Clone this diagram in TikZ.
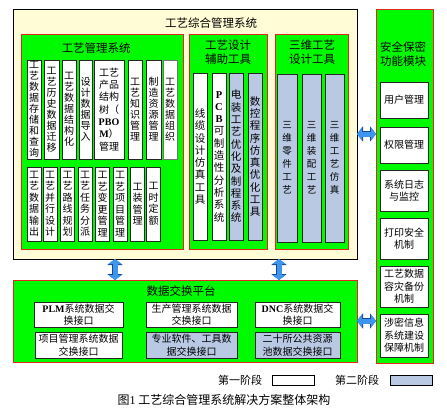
\documentclass[tikz,border=0pt]{standalone}
\usepackage{fontspec}
\setmainfont{Noto Sans CJK SC}
\newfontfamily\lat{Liberation Serif}
\usetikzlibrary{arrows.meta}
\definecolor{cream}{RGB}{255,252,214}
\definecolor{gfill}{RGB}{0,250,0}
\definecolor{gborder}{RGB}{225,40,30}
\definecolor{bgray}{RGB}{185,201,227}
\definecolor{ablue}{RGB}{60,150,240}
\definecolor{adark}{RGB}{25,70,140}
\makeatletter
\newcommand\vstk[1]{\def\vacc{}\def\vsep{}%
  \@tfor\ch:=#1\do{\edef\vacc{\unexpanded\expandafter{\vacc}\unexpanded\expandafter{\vsep}\unexpanded\expandafter{\ch}}\def\vsep{\\}}%
  \vacc}
\makeatother
\tikzset{
  every node/.style={inner sep=0pt, outer sep=0pt},
  creambox/.style={draw=black, fill=cream, line width=0.7pt},
  grp/.style={draw=gborder, fill=gfill, line width=0.8pt},
  wb/.style={draw=black!85, fill=white, line width=0.8pt, align=center},
  gb/.style={draw=black!85, fill=bgray, line width=0.8pt, align=center},
  ttl/.style={font=\fontsize{11.5}{14}\selectfont, align=center},
  tv/.style={font=\fontsize{10}{11}\selectfont},
  tvb/.style={font=\fontsize{10}{11.5}\selectfont},
  tva/.style={font=\fontsize{10.5}{12.3}\selectfont},
  tvd/.style={font=\fontsize{9.5}{13}\selectfont},
  th/.style={font=\fontsize{10}{12.5}\selectfont},
  tx/.style={font=\fontsize{10}{12.5}\selectfont},
  dbl/.style={line width=5pt, draw=ablue,
    {Triangle[length=5pt,width=13pt]}-{Triangle[length=5pt,width=13pt]},
    preaction={draw=adark, line width=6.6pt,
      {Triangle[length=6pt,width=15pt]}-{Triangle[length=6pt,width=15pt]}}}
}
\begin{document}
\begin{tikzpicture}[x=1pt,y=-1pt]
\useasboundingbox (0,0) rectangle (447,407);
% outer cream system box
\node[creambox, minimum width=344pt, minimum height=250pt] (cream) at (185,134) {};
\node[ttl] (creamt) at (211,23) {工艺综合管理系统};
% group 1
\node[grp, minimum width=162pt, minimum height=215pt] (g1) at (102,141.5) {};
\node[ttl] (g1t) at (96,48) {工艺管理系统};
\node[wb, tv, minimum width=14pt, minimum height=99pt] (t1) at (34,109.5) {\vstk{工艺数据存储和查询}};
\node[wb, tv, minimum width=15pt, minimum height=99pt] (t2) at (51.5,109.5) {\vstk{工艺历史数据迁移}};
\node[wb, tv, minimum width=14pt, minimum height=99pt] (t3) at (69,109.5) {\vstk{工艺数据结构化}};
\node[wb, tv, minimum width=13pt, minimum height=99pt] (t4) at (85.5,109.5) {\vstk{设计数据导入}};
\node[wb, font=\fontsize{10}{12.3}\selectfont, minimum width=30pt, minimum height=99pt] (t5) at (109,109.5) {工艺\\产品\\结构\\树（\\{\lat\bfseries PBO}\\{\lat\bfseries M}）\\管理};
\node[wb, tv, minimum width=14pt, minimum height=99pt] (t6) at (135,109.5) {\vstk{工艺知识管理}};
\node[wb, tv, minimum width=15pt, minimum height=99pt] (t7) at (153.5,109.5) {\vstk{制造资源管理}};
\node[wb, tv, draw=black!55, minimum width=14pt, minimum height=99pt] (t8) at (170,109.5) {\vstk{工艺数据组织}};
\node[wb, tvb, minimum width=14pt, minimum height=74pt] (b1) at (34,204) {\vstk{工艺数据输出}};
\node[wb, tvb, minimum width=14pt, minimum height=74pt] (b2) at (50,204) {\vstk{工艺并行设计}};
\node[wb, tvb, minimum width=14pt, minimum height=74pt] (b3) at (67.5,204) {\vstk{工艺路线规划}};
\node[wb, tvb, minimum width=14pt, minimum height=74pt] (b4) at (85,204) {\vstk{工艺任务分派}};
\node[wb, tvb, minimum width=14pt, minimum height=74pt] (b5) at (102.5,204) {\vstk{工艺变更管理}};
\node[wb, tvb, minimum width=14pt, minimum height=74pt] (b6) at (120,204) {\vstk{工艺项目管理}};
\node[wb, tvb, minimum width=14pt, minimum height=74pt] (b7) at (137.5,204) {\vstk{工装管理}};
\node[wb, tvb, minimum width=14pt, minimum height=74pt] (b8) at (153.5,204) {\vstk{工时定额}};
% group 2
\node[grp, minimum width=78pt, minimum height=215pt] (g2) at (228,141.5) {};
\node[ttl] (g2t) at (228,52) {工艺设计\\辅助工具};
\node[wb, tva, minimum width=14pt, minimum height=167pt] (a1) at (200,156.5) {\vstk{线缆设计仿真工具}};
\node[wb, tva, minimum width=14pt, minimum height=167pt] (a2) at (219,156.5) {{\lat\bfseries P}\\{\lat\bfseries C}\\{\lat\bfseries B}\\可\\制\\造\\性\\分\\析\\系\\统};
\node[gb, tva, minimum width=14pt, minimum height=167pt] (a3) at (236,156.5) {\vstk{电装工艺优化及制程系统}};
\node[gb, tva, minimum width=14pt, minimum height=167pt] (a4) at (255,156.5) {\vstk{数控程序仿真优化工具}};
% group 3
\node[grp, minimum width=73pt, minimum height=215pt] (g3) at (311.5,141.5) {};
\node[ttl] (g3t) at (312,52) {三维工艺\\设计工具};
\node[gb, tvd, minimum width=20pt, minimum height=168pt] (d1) at (287,158) {\vstk{三维零件工艺}};
\node[gb, tvd, minimum width=19pt, minimum height=168pt] (d2) at (311.5,158) {\vstk{三维装配工艺}};
\node[gb, tvd, minimum width=19pt, minimum height=168pt] (d3) at (334.5,158) {\vstk{三维工艺仿真}};
% security module
\node[grp, minimum width=57pt, minimum height=354pt] (sec) at (404.5,186) {};
\node[ttl] (sect) at (403,54) {安全保密\\功能模块};
\node[wb, th, minimum width=48pt, minimum height=36pt] (s1) at (404,100) {用户管理};
\node[wb, th, minimum width=48pt, minimum height=36pt] (s2) at (404,145) {权限管理};
\node[wb, th, minimum width=48pt, minimum height=41pt] (s3) at (404,190.5) {系统日志\\与监控};
\node[wb, th, minimum width=48pt, minimum height=41pt] (s4) at (404,238.5) {打印安全\\机制};
\node[wb, th, minimum width=48pt, minimum height=41pt] (s5) at (404,286.5) {工艺数据\\容灾备份\\机制};
\node[wb, th, minimum width=48pt, minimum height=43pt] (s6) at (404,335.5) {涉密信息\\系统建设\\保障机制};
% data exchange platform
\node[grp, minimum width=344pt, minimum height=82pt] (dx) at (185,321) {};
\node[ttl] (dxt) at (181,291) {数据交换平台};
\node[wb, tx, minimum width=89pt, minimum height=25pt] (x1) at (78.5,314.5) {{\lat\bfseries PLM}系统数据交\\换接口};
\node[wb, tx, minimum width=87pt, minimum height=26pt] (x2) at (78.5,345) {项目管理系统数据\\交换接口};
\node[wb, tx, minimum width=91pt, minimum height=25pt] (x3) at (191.5,314.5) {生产管理系统数据\\交换接口};
\node[gb, tx, minimum width=91pt, minimum height=26pt] (x4) at (191.5,345) {专业软件、工具数\\据交换接口};
\node[wb, tx, minimum width=85pt, minimum height=25pt] (x5) at (297.5,314.5) {{\lat\bfseries DNC}系统数据交\\换接口};
\node[gb, tx, minimum width=85pt, minimum height=26pt] (x6) at (297.5,345) {二十所公共资源\\池数据交换接口};
% arrows
\draw[dbl] (cream.east) -- (cream.east -| sec.west);
\draw[dbl] (dx.east) -- (dx.east -| sec.west);
\draw[dbl] ([xshift=102pt]cream.south west) -- ([xshift=102pt]dx.north west);
\draw[dbl] ([xshift=266pt]cream.south west) -- ([xshift=266pt]dx.north west);
% legend
\node[font=\fontsize{11}{13}\selectfont] (lt1) at (240,380) {第一阶段};
\node[draw=black, fill=white, line width=0.8pt, minimum width=42pt, minimum height=10pt] (l1) at (293,380) {};
\node[font=\fontsize{11}{13}\selectfont] (lt2) at (357,380) {第二阶段};
\node[draw=black, fill=bgray, line width=0.8pt, minimum width=42pt, minimum height=10pt] (l2) at (411,380) {};
\node[font=\fontsize{12}{14}\selectfont] (cap) at (224,400) {图{\lat 1}\ 工艺综合管理系统解决方案整体架构};
\end{tikzpicture}
\end{document}
